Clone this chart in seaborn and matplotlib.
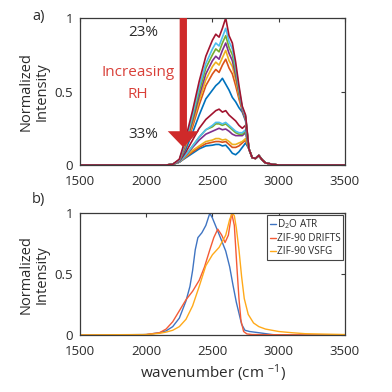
import numpy as np
import pandas as pd
import matplotlib
matplotlib.use("Agg")
import matplotlib.pyplot as plt
import seaborn as sns

sns.set_theme(style="white")
plt.rcParams["font.family"] = ["Open Sans", "DejaVu Sans"]
plt.rcParams["mathtext.fontset"] = "custom"
plt.rcParams["mathtext.rm"] = "Open Sans"
plt.rcParams["mathtext.it"] = "Open Sans:italic"

# ---- panel a: RH series (lowest to highest) ----
wn_a = [1500, 2000, 2150, 2200, 2250, 2300, 2350, 2400, 2450, 2500, 2525, 2550,
        2575, 2600, 2625, 2650, 2675, 2700, 2725, 2750, 2775, 2800, 2825, 2850,
        2875, 2900, 2950, 3000, 3500]
tail = [0.11, 0.05, 0.045, 0.065, 0.035, 0.015, 0.005, 0, 0]
rh_series = [
    [0, 0, 0, 0.005, 0.02, 0.05, 0.08, 0.11, 0.13, 0.135, 0.14, 0.14, 0.13, 0.135, 0.11, 0.08, 0.07, 0.09, 0.12, 0.15] + tail,
    [0, 0, 0, 0.005, 0.02, 0.055, 0.09, 0.12, 0.145, 0.155, 0.16, 0.16, 0.155, 0.16, 0.14, 0.12, 0.12, 0.13, 0.15, 0.17] + tail,
    [0, 0, 0, 0.005, 0.02, 0.06, 0.1, 0.13, 0.16, 0.17, 0.18, 0.18, 0.17, 0.175, 0.16, 0.14, 0.14, 0.15, 0.16, 0.18] + tail,
    [0, 0, 0, 0.005, 0.02, 0.065, 0.12, 0.17, 0.21, 0.23, 0.24, 0.25, 0.24, 0.245, 0.23, 0.21, 0.2, 0.2, 0.2, 0.22] + tail,
    [0, 0, 0, 0.005, 0.02, 0.07, 0.13, 0.19, 0.24, 0.26, 0.28, 0.28, 0.27, 0.28, 0.26, 0.24, 0.22, 0.21, 0.21, 0.23] + tail,
    [0, 0, 0, 0.005, 0.02, 0.07, 0.13, 0.19, 0.24, 0.27, 0.29, 0.29, 0.28, 0.29, 0.27, 0.25, 0.23, 0.22, 0.22, 0.24] + tail,
    [0, 0, 0, 0.005, 0.025, 0.09, 0.17, 0.25, 0.31, 0.35, 0.37, 0.38, 0.36, 0.37, 0.34, 0.32, 0.3, 0.27, 0.25, 0.27] + tail,
    [0, 0, 0, 0.005, 0.03, 0.11, 0.22, 0.34, 0.45, 0.51, 0.54, 0.56, 0.59, 0.55, 0.51, 0.46, 0.43, 0.39, 0.36, 0.3] + tail,
    [0, 0, 0, 0.005, 0.03, 0.13, 0.26, 0.41, 0.54, 0.62, 0.65, 0.63, 0.68, 0.72, 0.66, 0.62, 0.54, 0.45, 0.37, 0.31] + tail,
    [0, 0, 0, 0.005, 0.03, 0.14, 0.28, 0.44, 0.58, 0.67, 0.7, 0.68, 0.73, 0.78, 0.71, 0.67, 0.58, 0.47, 0.38, 0.32] + tail,
    [0, 0, 0, 0.005, 0.03, 0.15, 0.3, 0.47, 0.62, 0.71, 0.74, 0.72, 0.78, 0.83, 0.76, 0.71, 0.61, 0.49, 0.38, 0.32] + tail,
    [0, 0, 0, 0.005, 0.035, 0.16, 0.32, 0.5, 0.66, 0.75, 0.79, 0.77, 0.83, 0.88, 0.8, 0.75, 0.64, 0.5, 0.39, 0.33] + tail,
    [0, 0, 0, 0.005, 0.035, 0.17, 0.34, 0.53, 0.69, 0.79, 0.83, 0.81, 0.87, 0.93, 0.84, 0.79, 0.67, 0.52, 0.39, 0.33] + tail,
    [0, 0, 0, 0.005, 0.04, 0.19, 0.37, 0.57, 0.74, 0.85, 0.89, 0.87, 0.93, 1.0, 0.88, 0.83, 0.7, 0.54, 0.4, 0.34] + tail,
]
matlab_colors = ["#0072BD", "#D95319", "#EDB120", "#7E2F8E", "#77AC30", "#4DBEEE", "#A2142F"]

# ---- panel b: comparison spectra ----
atr_wn = [1500, 2000, 2100, 2150, 2200, 2250, 2300, 2330, 2350, 2370, 2390, 2420, 2450, 2480,
          2500, 2530, 2560, 2600, 2630, 2655, 2680, 2700, 2720, 2745, 2780, 2850, 2950, 3000, 3500]
atr = [0, 0.005, 0.02, 0.035, 0.07, 0.14, 0.28, 0.4, 0.53, 0.7, 0.8, 0.84, 0.9, 1.0,
       0.96, 0.88, 0.8, 0.69, 0.56, 0.41, 0.27, 0.18, 0.09, 0.04, 0.03, 0.02, 0.005, 0, 0]
drifts_wn = [1500, 1900, 2000, 2100, 2150, 2200, 2250, 2300, 2350, 2400, 2440, 2480, 2510, 2540,
             2570, 2595, 2620, 2645, 2665, 2685, 2700, 2715, 2735, 2760, 2800, 3500]
drifts = [0, 0, 0.005, 0.02, 0.05, 0.11, 0.2, 0.29, 0.36, 0.45, 0.56, 0.7, 0.8, 0.87,
          0.82, 0.76, 0.82, 1.0, 0.9, 0.55, 0.3, 0.12, 0.03, 0.01, 0.005, 0]
vsfg_wn = [1500, 2000, 2100, 2150, 2200, 2250, 2300, 2350, 2400, 2450, 2500, 2550, 2600, 2630,
           2650, 2665, 2680, 2700, 2720, 2740, 2770, 2810, 2850, 2900, 3000, 3100, 3200, 3500]
vsfg = [0.002, 0.005, 0.015, 0.025, 0.04, 0.07, 0.13, 0.24, 0.4, 0.57, 0.66, 0.72, 0.82, 0.95,
        1.0, 0.98, 0.88, 0.7, 0.48, 0.3, 0.17, 0.1, 0.07, 0.05, 0.03, 0.02, 0.012, 0.005]
b_labels = ["D$_2$O ATR", "ZIF-90 DRIFTS", "ZIF-90 VSFG"]
b_colors = ["#3f74c2", "#f45b36", "#ffaa1a"]

df_a = pd.concat([pd.DataFrame({"wn": wn_a, "I": s, "trace": i}) for i, s in enumerate(rh_series)])
df_b = pd.concat([
    pd.DataFrame({"wn": atr_wn, "I": atr, "sample": b_labels[0]}),
    pd.DataFrame({"wn": drifts_wn, "I": drifts, "sample": b_labels[1]}),
    pd.DataFrame({"wn": vsfg_wn, "I": vsfg, "sample": b_labels[2]}),
])

fig = plt.figure(figsize=(3.92, 3.92), dpi=100)
ax1 = fig.add_axes([0.204, 0.579, 0.676, 0.375])
ax2 = fig.add_axes([0.204, 0.145, 0.676, 0.311])

pal_a = [matlab_colors[i % 7] for i in range(len(rh_series))]
sns.lineplot(data=df_a, x="wn", y="I", hue="trace", palette=pal_a, estimator=None,
             sort=False, legend=False, linewidth=1.2, ax=ax1)
sns.lineplot(data=df_b, x="wn", y="I", hue="sample", palette=b_colors, estimator=None,
             sort=False, linewidth=1.0, ax=ax2)

edge = "#3a3a3a"
txt = "#2b2b2b"
for ax in (ax1, ax2):
    ax.set_xlim(1500, 3500)
    ax.set_ylim(0, 1)
    ax.set_xticks([1500, 2000, 2500, 3000, 3500])
    ax.set_yticks([0, 0.5, 1], ["0", "0.5", "1"])
    ax.tick_params(direction="in", top=True, right=True, length=3, width=0.8,
                   color=edge, labelsize=9.5, labelcolor=txt)
    ax.tick_params(axis="x", pad=7)
    ax.tick_params(axis="y", pad=5)
    for sp in ax.spines.values():
        sp.set_color(edge)
        sp.set_linewidth(0.9)
    ax.set_xlabel("")
    ax.set_ylabel("Normalized\nIntensity", fontsize=10.5, color=txt, linespacing=1.05)
    ax.yaxis.set_label_coords(-0.115, 0.5)
    ax.grid(False)

# arrow + annotations in panel a
ax1.arrow(2280, 1.0, 0, -0.88, width=55, head_width=235, head_length=0.11,
          length_includes_head=True, fc="#cf2a2a", ec="none", zorder=5)
ax1.text(1975, 0.9, "23%", ha="center", va="center", fontsize=11, color=txt)
ax1.text(1975, 0.21, "33%", ha="center", va="center", fontsize=11, color=txt)
ax1.text(1940, 0.63, "Increasing", ha="center", va="center", fontsize=11, color="#d9413a")
ax1.text(1940, 0.48, "RH", ha="center", va="center", fontsize=11, color="#d9413a")

ax2.set_xlabel("wavenumber (cm $^{-1}$)", fontsize=11, color=txt)
ax2.xaxis.set_label_coords(0.5, -0.31)
ax2.xaxis.label.set_va("center")

leg = ax2.legend(loc="upper right", bbox_to_anchor=(1.0, 1.0), borderaxespad=0.15,
                 fontsize=7.2, handlelength=0.6, handletextpad=0.15, labelspacing=0.2,
                 borderpad=0.25, fancybox=False, framealpha=1, edgecolor="#444444")
leg.get_frame().set_linewidth(0.8)
for t in leg.get_texts():
    t.set_color(txt)

fig.text(0.082, 0.957, "a)", fontsize=10.5, color=txt, va="center")
fig.text(0.082, 0.49, "b)", fontsize=10.5, color=txt, va="center")

fig.savefig("out.png", dpi=100)
